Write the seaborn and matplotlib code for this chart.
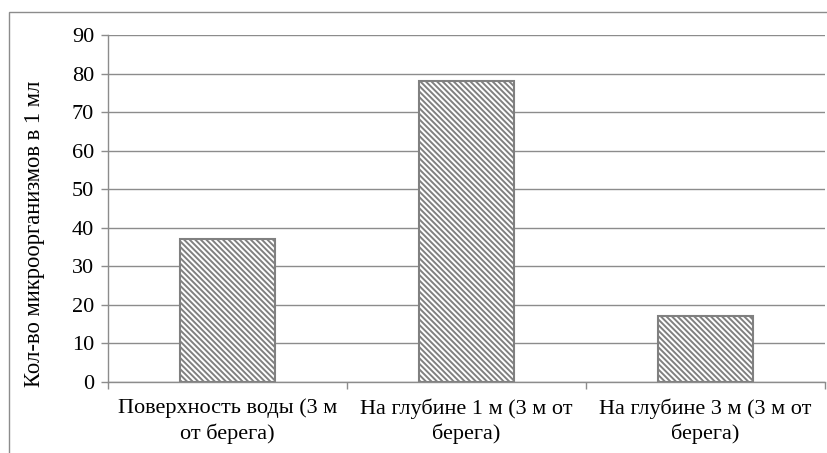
import matplotlib
matplotlib.use("Agg")
import matplotlib.pyplot as plt
import seaborn as sns
import pandas as pd
from matplotlib.patches import Rectangle

categories = ["Поверхность воды (3 м\nот берега)",
              "На глубине 1 м (3 м от\nберега)",
              "На глубине 3 м (3 м от\nберега)"]
values = [37, 78, 17]
y_ticks = [0, 10, 20, 30, 40, 50, 60, 70, 80, 90]
y_label = "Кол-во микроорганизмов в 1 мл"

sns.set_theme(style="white")
plt.rcParams['font.family'] = ['Liberation Serif', 'DejaVu Serif']
plt.rcParams['hatch.color'] = '#808080'
plt.rcParams['hatch.linewidth'] = 1.4

W, H = 828, 453
fig = plt.figure(figsize=(W/100, H/100), dpi=100)
fig.patch.set_facecolor('white')
# outer chart frame
fig.patches.append(Rectangle((9/W, -0.1), 1.2, (H-12)/H + 0.1, transform=fig.transFigure,
                             fill=False, edgecolor='#8c8c8c', linewidth=1.0))

ax = fig.add_axes([108/W, (H-382)/H, (825-108)/W, (382-35)/H])
df = pd.DataFrame({"cat": categories, "val": values})
sns.barplot(data=df, x="cat", y="val", ax=ax, width=0.4, color="white",
            edgecolor="#808080", linewidth=1.5, saturation=1)
for p in ax.patches:
    p.set_hatch('\\' * 6)
    p.set_facecolor('white')
    p.set_edgecolor('#808080')

ax.set_ylim(0, 90)
ax.set_xlim(-0.5, 2.5)
ax.set_yticks(y_ticks)
ax.yaxis.grid(True, color='#8c8c8c', linewidth=1.0)
ax.set_axisbelow(True)
for s in ['top', 'right']:
    ax.spines[s].set_visible(False)
for s in ['left', 'bottom']:
    ax.spines[s].set_color('#8c8c8c')
    ax.spines[s].set_linewidth(1.0)

ax.set_xticks([-0.5, 0.5, 1.5, 2.5])
ax.set_xticklabels([])
ax.set_xticks([0, 1, 2], minor=True)
ax.set_xticklabels(categories, minor=True, fontsize=16, color='black', linespacing=1.3)
ax.tick_params(axis='x', which='major', direction='out', length=5, width=1, color='#8c8c8c', bottom=True)
ax.tick_params(axis='x', which='minor', length=0, pad=12, bottom=True)
ax.tick_params(axis='y', direction='out', length=5, width=1, color='#8c8c8c', left=True,
               labelsize=16, labelcolor='black', pad=5)
ax.set_xlabel("")
ax.set_ylabel(y_label, fontsize=16.3, color='black')
ax.yaxis.set_label_coords(-0.088, 0.427)

fig.savefig("out.png", dpi=100, facecolor='white')
